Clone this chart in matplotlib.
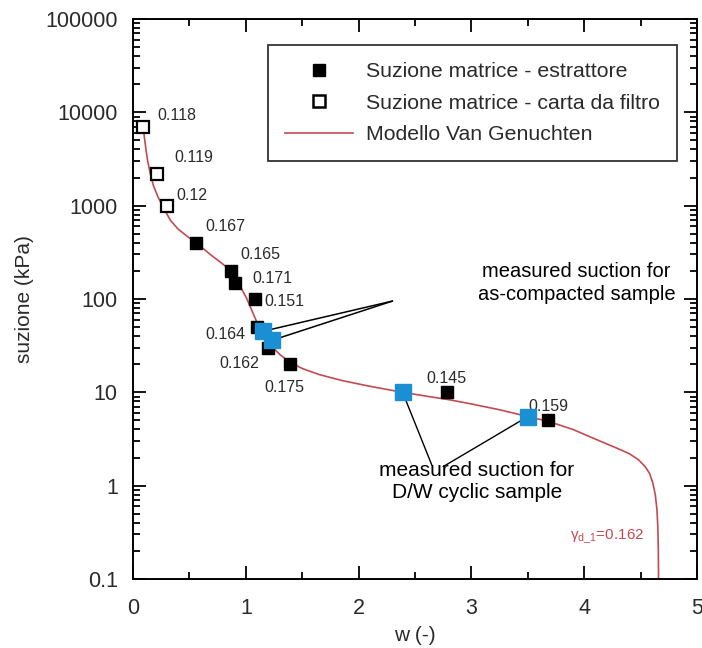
import matplotlib
matplotlib.use("Agg")
import matplotlib.pyplot as plt
from matplotlib.lines import Line2D
from matplotlib.ticker import FixedLocator, FuncFormatter, LogLocator, MultipleLocator

plt.rcParams["font.family"] = ["Liberation Sans", "DejaVu Sans"]

# filter paper suction (open squares)
w_filtro = [0.09, 0.21, 0.30]
s_filtro = [7000, 2200, 1000]
lab_filtro = ["0.118", "0.119", "0.12"]

# extractor suction (filled squares)
w_estr = [0.56, 0.87, 0.90, 1.08, 1.10, 1.20, 1.39, 2.78, 3.68]
s_estr = [400, 200, 150, 100, 50, 30, 20, 10, 5.0]
lab_estr = ["0.167", "0.165", "0.171", "0.151", "0.164", "0.162", "0.175", "0.145", "0.159"]

# measured suction, as-compacted and D/W cyclic samples (blue)
w_comp = [1.15, 1.23]
s_comp = [45, 36]
w_cyc = [2.39, 3.50]
s_cyc = [10, 5.5]

# Van Genuchten model curve
w_vg = [0.09, 0.10, 0.115, 0.13, 0.15, 0.18, 0.22, 0.26, 0.33, 0.40, 0.48, 0.56,
        0.70, 0.78, 0.86, 0.91, 0.96, 1.01, 1.06, 1.12, 1.17, 1.23, 1.30, 1.39,
        1.50, 1.65, 1.85, 2.10, 2.39, 2.60, 2.81, 3.00, 3.25, 3.50, 3.69, 3.90,
        4.10, 4.28, 4.40, 4.48, 4.54, 4.58, 4.61, 4.63, 4.645, 4.653, 4.657, 4.659]
s_vg = [7000, 5500, 3980, 3000, 2300, 1650, 1250, 1000, 700, 560, 470, 400,
        290, 245, 205, 168, 130, 100, 72, 49, 38, 31, 25.5, 21,
        18, 15.5, 13.4, 11.6, 10, 9.1, 8.3, 7.5, 6.5, 5.5, 4.85, 4.0,
        3.15, 2.55, 2.2, 1.9, 1.6, 1.35, 1.05, 0.8, 0.55, 0.35, 0.2, 0.1]

# offsets (points) of the dry-density labels
off_filtro = [(10, 8), (13, 11.5), (6.5, 7)]
off_estr = [(6.5, 12), (6.5, 11.5), (13, 3), (6.5, -1.5), (-8.5, -5),
            (-6.5, -11.5), (-4, -16.5), (0, 10), (0, 10)]
ha_estr = ["left", "left", "left", "left", "right", "right", "center", "center", "center"]

red = "#c44a52"
blue = "#1b8fd3"
txt = "#2a2a2a"

fig = plt.figure(figsize=(7.02, 6.48), dpi=100)
ax = fig.add_axes([0.1895, 0.1065, 0.8034, 0.8642])

ax.plot(w_vg, s_vg, color=red, lw=1.2, zorder=2)
ax.plot(w_estr, s_estr, ls="none", marker="s", ms=8.8, mfc="black", mec="black", zorder=3)
ax.plot(w_filtro, s_filtro, ls="none", marker="s", ms=8.3, mfc="white", mec="black",
        mew=1.6, zorder=3)
ax.plot(w_comp + w_cyc, s_comp + s_cyc, ls="none", marker="s", ms=11, mfc=blue,
        mec=blue, zorder=4)

for x, y, t, o in zip(w_filtro, s_filtro, lab_filtro, off_filtro):
    ax.annotate(t, (x, y), xytext=o, textcoords="offset points", ha="left",
                va="center", fontsize=11.5, color=txt)
for x, y, t, o, h in zip(w_estr, s_estr, lab_estr, off_estr, ha_estr):
    ax.annotate(t, (x, y), xytext=o, textcoords="offset points", ha=h,
                va="center", fontsize=11.5, color=txt)

# leader lines to the measured points
for x, y in zip(w_comp, s_comp):
    ax.annotate("", xy=(x, y), xytext=(2.30, 95),
                arrowprops=dict(arrowstyle="-", color="black", lw=1.1,
                                shrinkA=0, shrinkB=4))
for (x, y), tip in zip(zip(w_cyc, s_cyc), [(2.65, 1.65), (2.75, 1.6)]):
    ax.annotate("", xy=(x, y), xytext=tip,
                arrowprops=dict(arrowstyle="-", color="black", lw=1.0,
                                shrinkA=0, shrinkB=3))

ax.text(3.93, 147, "measured suction for\nas-compacted sample", ha="center",
        va="center", fontsize=14.5, color="black", linespacing=1.25)
ax.text(3.05, 1.12, "measured suction for\nD/W cyclic sample", ha="center",
        va="center", fontsize=15, color="black", linespacing=1.2)
ax.text(3.87, 0.28, r"$\mathregular{\gamma_{d\_1}}$=0.162", ha="left", va="center",
        fontsize=11, color=red)

ax.set_yscale("log")
ax.set_xlim(0, 5)
ax.set_ylim(0.1, 100000)
ax.xaxis.set_major_locator(MultipleLocator(1))
ax.xaxis.set_minor_locator(MultipleLocator(0.5))
ax.yaxis.set_major_locator(FixedLocator([0.1, 1, 10, 100, 1000, 10000, 100000]))
ax.yaxis.set_minor_locator(LogLocator(base=10, subs=range(2, 10), numticks=20))
ax.yaxis.set_major_formatter(FuncFormatter(lambda v, p: "%g" % v))
ax.xaxis.set_major_formatter(FuncFormatter(lambda v, p: "%d" % v))

ax.tick_params(which="both", direction="in", top=True, right=True, width=1.3,
               colors="black", labelcolor=txt, labelsize=15.5)
ax.tick_params(axis="y", pad=11)
ax.tick_params(axis="x", pad=14)
ax.tick_params(which="major", length=9.5)
ax.tick_params(which="minor", length=5)
for sp in ax.spines.values():
    sp.set_linewidth(1.4)

ax.set_xlabel("w (-)", fontsize=15, color=txt, labelpad=5)
ax.set_ylabel("suzione (kPa)", fontsize=15, color=txt, labelpad=8)

handles = [
    Line2D([], [], ls="none", marker="s", ms=9, mfc="black", mec="black"),
    Line2D([], [], ls="none", marker="s", ms=8.5, mfc="white", mec="black", mew=1.8),
    Line2D([], [], color=red, lw=1.2),
]
labels = ["Suzione matrice - estrattore", "Suzione matrice - carta da filtro",
          "Modello Van Genuchten"]
leg = ax.legend(handles, labels, loc="upper right", bbox_to_anchor=(0.9645, 0.9536),
                borderaxespad=0, fontsize=15.3, frameon=True, fancybox=False,
                edgecolor="black", handlelength=3.2, handletextpad=0.6,
                labelspacing=0.6, borderpad=0.8)
leg.get_frame().set_linewidth(1.3)
for t in leg.get_texts():
    t.set_color(txt)

fig.savefig("out.png", dpi=100)
